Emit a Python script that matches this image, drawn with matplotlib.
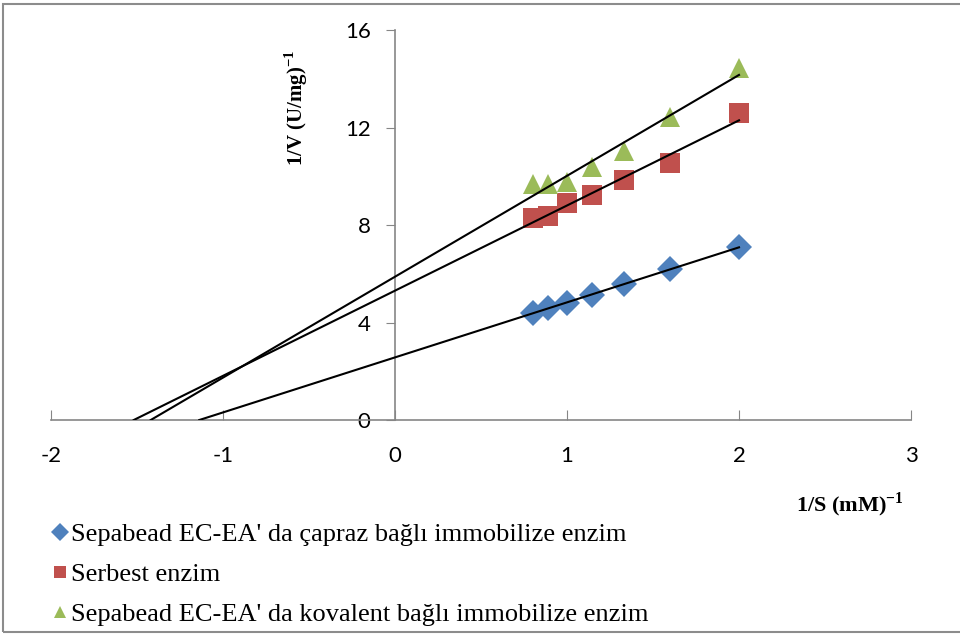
import numpy as np
import matplotlib.pyplot as plt
from matplotlib.lines import Line2D
from matplotlib.patches import Rectangle

plt.rcParams['axes.unicode_minus'] = False
plt.rcParams['mathtext.fontset'] = 'custom'
plt.rcParams['mathtext.rm'] = 'Liberation Serif:bold'
plt.rcParams['mathtext.bf'] = 'Liberation Serif:bold'

# 1/S values (mM)^-1
inv_s = [0.8, 0.889, 1.0, 1.143, 1.333, 1.6, 2.0]
# 1/V values (U/mg)^-1
capraz = [4.39, 4.59, 4.80, 5.13, 5.58, 6.20, 7.08]
serbest = [8.29, 8.37, 8.90, 9.23, 9.85, 10.54, 12.59]
kovalent = [9.68, 9.70, 9.75, 10.36, 11.03, 12.45, 14.46]

labels = ["Sepabead EC-EA' da çapraz bağlı immobilize enzim",
          "Serbest enzim",
          "Sepabead EC-EA' da kovalent bağlı immobilize enzim"]
colors = ['#4F81BD', '#C0504D', '#9BBB59']
markers = ['D', 's', '^']

fig = plt.figure(figsize=(9.6, 6.36), dpi=100)
ax = fig.add_axes([0.053, 0.3396, 0.896, 0.6132])

x = np.array(inv_s)
for ys, c, m in zip([capraz, serbest, kovalent], colors, markers):
    ax.plot(x, ys, linestyle='none', marker=m, color=c, markersize=13 if m == 'D' else 14,
            markeredgewidth=0, zorder=3)
    # linear trendline, extended backwards to the x intercept
    a, b = np.polyfit(x, ys, 1)
    x0 = -b / a
    ax.plot([x0, x.max()], [a * x0 + b, a * x.max() + b], color='black', lw=1.5, zorder=4)

ax.set_xlim(-2, 3)
ax.set_ylim(0, 16)
ax.set_xticks([-2, -1, 0, 1, 2, 3])
ax.set_yticks([0, 4, 8, 12, 16])

for s in ['top', 'right']:
    ax.spines[s].set_visible(False)
ax.spines['left'].set_position(('data', 0))
ax.spines['bottom'].set_position(('data', 0))
for s in ['left', 'bottom']:
    ax.spines[s].set_color('#868686')
    ax.spines[s].set_linewidth(1.2)

ax.tick_params(axis='x', direction='in', length=7, color='#868686', pad=19,
               labelsize=16)
ax.tick_params(axis='y', direction='out', length=6.5, color='#868686', pad=11,
               labelsize=16)
for lab in ax.get_xticklabels() + ax.get_yticklabels():
    lab.set_fontfamily('Lato')

fig.text(0.309, 0.83, '1/V (U/mg)$^{-1}$', rotation=90, ha='center', va='center',
         fontsize=15, fontweight='bold', family='Liberation Serif')
fig.text(0.885, 0.206, '1/S (mM)$^{-1}$', ha='center', va='center',
         fontsize=16, fontweight='bold', family='Liberation Serif')

handles = [Line2D([], [], linestyle='none', marker=m, color=c, markersize=9, markeredgewidth=0)
           for c, m in zip(colors, markers)]
leg = fig.legend(handles, labels, loc='upper left', bbox_to_anchor=(0.03, 0.215),
                 frameon=False, handlelength=0.6, handletextpad=0.1, labelspacing=0.62,
                 fontsize=19)
for t in leg.get_texts():
    t.set_fontfamily('Liberation Serif')
    t.set_fontsize(19)

# outer frame
fig.patches.append(Rectangle((0.003, 0.006), 1.2, 0.987, transform=fig.transFigure,
                             fill=False, edgecolor='#8c8c8c', lw=1.5))

fig.savefig('out.png', dpi=100)
